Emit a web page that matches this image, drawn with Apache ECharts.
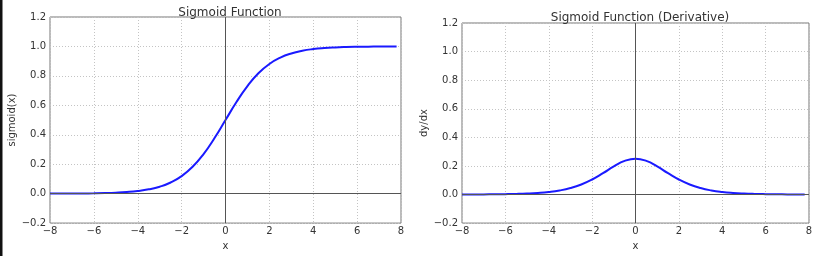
<!DOCTYPE html>
<html><head><meta charset="utf-8">
<script src="https://cdn.jsdelivr.net/npm/echarts@6/dist/echarts.min.js"></script>
<style>html,body{margin:0;padding:0;background:#fff}#c{width:817px;height:256px}</style>
</head><body><div id="c"></div>
<script>
const xs = [-8,-7.5,-7,-6.5,-6,-5.5,-5,-4.5,-4,-3.5,-3,-2.5,-2,-1.5,-1,-0.5,0,0.5,1,1.5,2,2.5,3,3.5,4,4.5,5,5.5,6,6.5,7,7.5,7.8];
const sigmoidVals = [0.000335,0.000553,0.000911,0.001501,0.002473,0.00407,0.006693,0.010987,0.017986,0.029312,0.047426,0.075858,0.119203,0.182426,0.268941,0.377541,0.5,0.622459,0.731059,0.817574,0.880797,0.924142,0.952574,0.970688,0.982014,0.989013,0.993307,0.99593,0.997527,0.998499,0.999089,0.999447,0.99959];
const derivVals = [0.000335,0.000553,0.00091,0.001499,0.002467,0.004054,0.006648,0.010866,0.017663,0.028453,0.045177,0.070104,0.104994,0.149146,0.196612,0.235004,0.25,0.235004,0.196612,0.149146,0.104994,0.070104,0.045177,0.028453,0.017663,0.010866,0.006648,0.004054,0.002467,0.001499,0.00091,0.000553,0.00041];
const titles = ['Sigmoid Function','Sigmoid Function (Derivative)'];
const yNames = ['sigmoid(x)','dy/dx'];
const xName = 'x';

const font = 'DejaVu Sans';
const minus = v => String(v).replace('-', '\u2212');
const fmtY = v => minus(v.toFixed(1));
function axisX(i){
  return {type:'value',gridIndex:i,min:-8,max:8,interval:2,
    name:xName,nameLocation:'middle',nameGap:15,
    nameTextStyle:{fontFamily:font,fontSize:10,color:'#333'},
    axisLine:{show:false},axisTick:{show:false},
    axisLabel:{formatter:minus,margin:3,fontFamily:font,fontSize:10,color:'#333'},
    splitLine:{show:true,lineStyle:{type:[1,2],color:'#c4c4c4',width:1}}};
}
function axisY(i){
  return {type:'value',gridIndex:i,min:-0.2,max:1.2,interval:0.2,
    name:yNames[i],nameLocation:'middle',nameGap:28,
    nameTextStyle:{fontFamily:font,fontSize:10,color:'#333'},
    axisLine:{show:false},axisTick:{show:false},
    axisLabel:{formatter:fmtY,margin:4,fontFamily:font,fontSize:10,color:'#333'},
    splitLine:{show:true,lineStyle:{type:[1,2],color:'#c4c4c4',width:1}}};
}
function ser(i, vals){
  return {type:'line',xAxisIndex:i,yAxisIndex:i,symbol:'none',smooth:0.5,
    data:xs.map((x,k)=>[x,vals[k]]),
    lineStyle:{color:'#1a1aff',width:2},
    markLine:{silent:true,symbol:'none',label:{show:false},animation:false,
      lineStyle:{type:'solid',color:'#555',width:1},
      data:[{xAxis:0},{yAxis:0}]},
    z:3};
}
const chart = echarts.init(document.getElementById('c'));
chart.setOption({
  animation:false,
  title:[
    {text:titles[0],left:225,top:2,textAlign:'center',textStyle:{fontFamily:font,fontSize:12,fontWeight:'normal',color:'#333'}},
    {text:titles[1],left:635,top:7,textAlign:'center',textStyle:{fontFamily:font,fontSize:12,fontWeight:'normal',color:'#333'}}
  ],
  graphic:[{type:'rect',shape:{x:0,y:0,width:2.5,height:256},style:{fill:'#111'}}],
  grid:[
    {left:50,top:17,width:351,height:211,show:true,borderColor:'#777',borderWidth:1,containLabel:false},
    {left:462,top:23,width:347,height:207,show:true,borderColor:'#777',borderWidth:1,containLabel:false}
  ],
  xAxis:[axisX(0),axisX(1)],
  yAxis:[axisY(0),axisY(1)],
  series:[ser(0,sigmoidVals),ser(1,derivVals)]
});
</script></body></html>
